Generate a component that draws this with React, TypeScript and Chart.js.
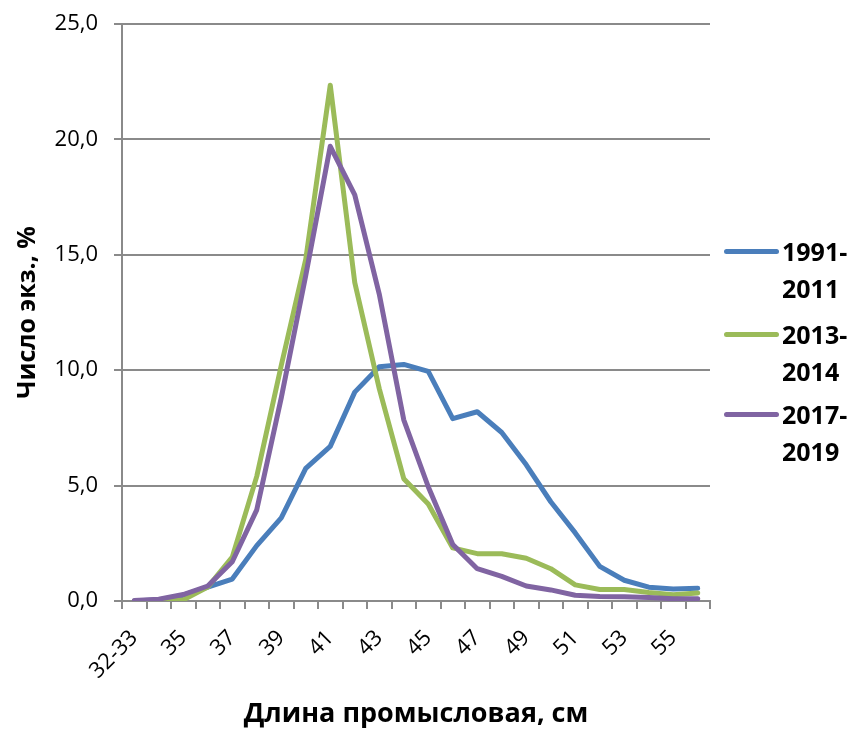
import React, { useEffect, useRef } from 'react';
import { Chart, registerables } from 'chart.js';

Chart.register(...registerables);

const categories = [
  '32-33', '34', '35', '36', '37', '38', '39', '40', '41', '42', '43', '44',
  '45', '46', '47', '48', '49', '50', '51', '52', '53', '54', '55', '56',
];

const series1991_2011 = [
  0.0, 0.05, 0.25, 0.6, 0.95, 2.4, 3.6, 5.75, 6.7, 9.05, 10.15, 10.25,
  9.95, 7.9, 8.2, 7.3, 5.9, 4.3, 2.95, 1.5, 0.9, 0.6, 0.52, 0.55,
];

const series2013_2014 = [
  0.0, 0.0, 0.05, 0.6, 1.9, 5.4, 10.2, 14.8, 22.35, 13.8, 9.2, 5.3,
  4.2, 2.3, 2.05, 2.05, 1.85, 1.4, 0.7, 0.5, 0.5, 0.37, 0.27, 0.35,
];

const series2017_2019 = [
  0.02, 0.08, 0.28, 0.65, 1.7, 3.95, 8.8, 14.1, 19.7, 17.6, 13.3, 7.85,
  4.95, 2.45, 1.4, 1.07, 0.65, 0.48, 0.25, 0.2, 0.18, 0.15, 0.1, 0.1,
];

const seriesNames = ['1991-2011', '2013-2014', '2017-2019'];
const legendLines = [
  ['1991-', '2011'],
  ['2013-', '2014'],
  ['2017-', '2019'],
];
const seriesColors = ['#4A7EBB', '#9BBB59', '#8064A2'];

const yTitle = 'Число экз., %';
const xTitle = 'Длина промысловая, см';

const FONT = '"Open Sans", "DejaVu Sans", sans-serif';
const GRID = '#8a8a8a';

export default function App() {
  const canvasRef = useRef<HTMLCanvasElement | null>(null);

  useEffect(() => {
    document.body.style.margin = '0';
    const canvas = canvasRef.current;
    if (!canvas) return;
    const values = [series1991_2011, series2013_2014, series2017_2019];
    const chart = new Chart(canvas, {
      type: 'line',
      data: {
        labels: categories,
        datasets: values.map((v, i) => ({
          label: seriesNames[i],
          data: v,
          borderColor: seriesColors[i],
          backgroundColor: seriesColors[i],
          borderWidth: 5,
          pointRadius: 0,
          pointHoverRadius: 0,
          tension: 0,
          fill: false,
          order: 3 - i,
          borderJoinStyle: 'round' as const,
          borderCapStyle: 'round' as const,
        })),
      },
      options: {
        animation: false,
        responsive: false,
        devicePixelRatio: 1,
        layout: { padding: { left: 0, right: 152, top: 24, bottom: 0 } },
        plugins: {
          legend: { display: false },
          tooltip: { enabled: false },
        },
        scales: {
          x: {
            type: 'category',
            offset: true,
            grid: {
              offset: true,
              drawOnChartArea: false,
              drawTicks: true,
              tickLength: 8,
              color: GRID,
              lineWidth: 2,
            },
            border: { display: true, color: GRID, width: 2 },
            ticks: {
              autoSkip: false,
              maxRotation: 45,
              minRotation: 45,
              padding: 16,
              color: '#000',
              font: { family: FONT, size: 22 },
              callback: (_v: any, i: number) => (i % 2 === 0 ? categories[i] : ''),
            },
            title: {
              display: true,
              text: xTitle,
              color: '#000',
              font: { family: FONT, size: 27, weight: 'bold' },
              padding: { top: 0, bottom: 0 },
            },
            afterFit: (s: any) => {
              s.height = 130;
              s.paddingLeft = 0;
              s.paddingRight = 0;
            },
          },
          y: {
            min: 0,
            max: 25,
            ticks: {
              stepSize: 5,
              padding: 16,
              color: '#000',
              font: { family: FONT, size: 22 },
              callback: (v: any) => Number(v).toFixed(1).replace('.', ','),
            },
            grid: {
              color: GRID,
              lineWidth: 2,
              tickLength: 8,
              drawTicks: true,
            },
            border: { display: true, color: GRID, width: 2 },
            title: {
              display: true,
              text: yTitle,
              color: '#000',
              font: { family: FONT, size: 25, weight: 'bold' },
              padding: { top: 13, bottom: 0 },
            },
            afterFit: (s: any) => {
              s.width = 122;
              s.paddingTop = 0;
              s.paddingBottom = 0;
            },
          },
        },
      } as any,
    });
    return () => chart.destroy();
  }, []);

  const itemTops = [251, 334, 414];

  return (
    <div style={{ position: 'relative', width: 862, height: 731, background: '#fff' }}>
      <canvas
        ref={canvasRef}
        width={862}
        height={731}
        style={{ position: 'absolute', left: 0, top: 0, width: 862, height: 731 }}
      />
      {legendLines.map((lines, i) => (
        <React.Fragment key={i}>
          <div
            style={{
              position: 'absolute',
              left: 724,
              top: itemTops[i] - 2.5,
              width: 55,
              height: 5,
              borderRadius: 3,
              background: seriesColors[i],
            }}
          />
          {lines.map((t, j) => (
            <div
              key={j}
              style={{
                position: 'absolute',
                left: 782,
                top: itemTops[i] + j * 37 - 18,
                height: 36,
                lineHeight: '36px',
                fontFamily: FONT,
                fontWeight: 700,
                fontSize: 25,
                color: '#000',
                whiteSpace: 'nowrap',
              }}
            >
              {t}
            </div>
          ))}
        </React.Fragment>
      ))}
    </div>
  );
}
